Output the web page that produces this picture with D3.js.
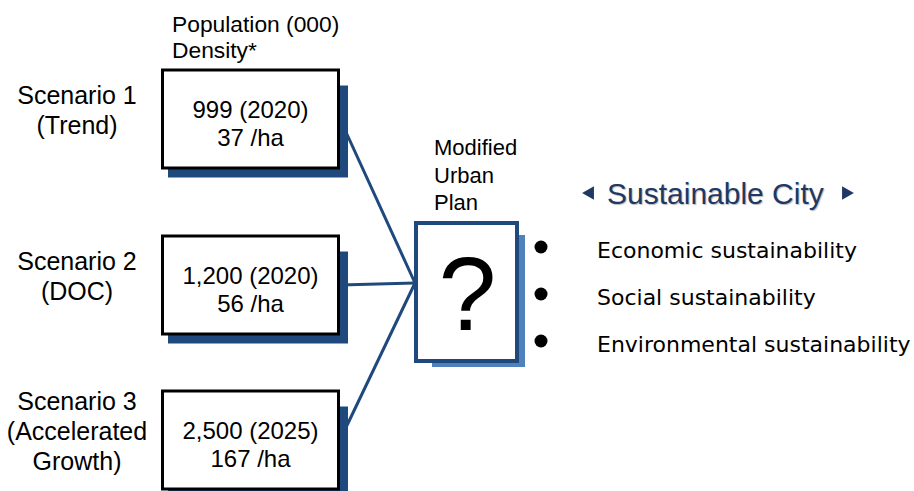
<!DOCTYPE html>
<html>
<head>
<meta charset="utf-8">
<script src="https://cdn.jsdelivr.net/npm/d3@7"></script>
<style>
  body { margin: 0; background: #fff; }
  svg { display: block; }
</style>
</head>
<body>
<div id="chart"></div>
<script>
// scenario data
const scenarios = ["Scenario 1", "Scenario 2", "Scenario 3"];
const scenarioNotes = [["(Trend)"], ["(DOC)"], ["(Accelerated", "Growth)"]];
const population = [999, 1200, 2500];   // thousands
const popYear = [2020, 2020, 2025];
const density = [37, 56, 167];          // per ha
const headerLines = ["Population (000)", "Density*"];
const planLines = ["Modified", "Urban", "Plan"];
const goalTitle = "Sustainable City";
const goals = ["Economic sustainability", "Social sustainability", "Environmental sustainability"];

const width = 914, height = 491;
const navy = "#1f497d";

const svg = d3.select("#chart").append("svg")
    .attr("width", width)
    .attr("height", height)
    .style("font-family", "Liberation Sans, Arial, sans-serif");

// vertical layout of the scenario boxes and the goal bullets
let yScenario = d3.scaleOrdinal().domain(scenarios).range([119, 285, 440]);
let yGoal = d3.scalePoint().domain(goals).range([247, 341]);

const box = {x: 161, w: 179, h: 101};
const qBox = {x: 414, y: 221, w: 105, h: 142};
const hub = {x: qBox.x + 1, y: 283};

let rows = scenarios.map(function (s, i) {
    return {name: s, notes: scenarioNotes[i], pop: population[i], year: popYear[i], dens: density[i]};
});

// connector lines
svg.selectAll(".link")
    .data(rows)
    .enter().append("line")
    .attr("class", "link")
    .attr("x1", box.x + box.w)
    .attr("y1", d => yScenario(d.name))
    .attr("x2", hub.x)
    .attr("y2", hub.y)
    .attr("stroke", navy)
    .attr("stroke-width", 3);

let g = svg.selectAll(".scenario")
    .data(rows)
    .enter().append("g")
    .attr("class", "scenario")
    .attr("transform", d => "translate(0," + (yScenario(d.name) - box.h / 2) + ")");

// shadow
g.append("rect")
    .attr("x", box.x + 7)
    .attr("y", 17)
    .attr("width", box.w + 1)
    .attr("height", box.h - 9)
    .attr("fill", navy);

g.append("rect")
    .attr("x", box.x + 1.5)
    .attr("y", 1.5)
    .attr("width", box.w - 3)
    .attr("height", box.h - 3)
    .attr("fill", "#fff")
    .attr("stroke", "#000")
    .attr("stroke-width", 3);

g.append("text")
    .attr("x", box.x + box.w / 2)
    .attr("y", box.h / 2 - 1)
    .attr("text-anchor", "middle")
    .style("font-size", "24px")
    .text(d => d3.format(",")(d.pop) + " (" + d.year + ")");

g.append("text")
    .attr("x", box.x + box.w / 2)
    .attr("y", box.h / 2 + 27)
    .attr("text-anchor", "middle")
    .style("font-size", "24px")
    .text(d => d.dens + " /ha");

// scenario labels on the left
g.each(function (d) {
    let lines = [d.name].concat(d.notes);
    let n = lines.length;
    d3.select(this).selectAll(".lbl")
        .data(lines)
        .enter().append("text")
        .attr("class", "lbl")
        .attr("x", 77)
        .attr("y", (t, i) => box.h / 2 + (i - (n - 1) / 2) * 30)
        .attr("text-anchor", "middle")
        .style("font-size", "25px")
        .text(t => t);
});

// header
svg.selectAll(".header")
    .data(headerLines)
    .enter().append("text")
    .attr("x", 172)
    .attr("y", (d, i) => 32 + i * 26)
    .style("font-size", "22.8px")
    .text(d => d);

// modified urban plan box
svg.selectAll(".plan")
    .data(planLines)
    .enter().append("text")
    .attr("x", 434)
    .attr("y", (d, i) => 155 + i * 27.5)
    .style("font-size", "22px")
    .text(d => d);

svg.append("rect")
    .attr("x", qBox.x + 18)
    .attr("y", qBox.y + 14)
    .attr("width", qBox.w - 12)
    .attr("height", qBox.h - 10)
    .attr("fill", "#4f81bd");

svg.append("rect")
    .attr("x", qBox.x + 2)
    .attr("y", qBox.y + 2)
    .attr("width", qBox.w - 4)
    .attr("height", qBox.h - 4)
    .attr("fill", "#fff")
    .attr("stroke", navy)
    .attr("stroke-width", 4);

svg.append("text")
    .attr("x", qBox.x + qBox.w / 2 + 1)
    .attr("y", 330)
    .attr("text-anchor", "middle")
    .style("font-size", "104px")
    .text("?");

// sustainable city
svg.append("text")
    .attr("x", 607)
    .attr("y", 204)
    .style("font-size", "30px")
    .style("fill", "#1f3864")
    .style("text-shadow", "1px 1px 1px #bbb")
    .text(goalTitle);

svg.append("path")
    .attr("d", d3.symbol().type(d3.symbolTriangle).size(80))
    .attr("transform", "translate(590,193) rotate(-90)")
    .attr("fill", "#1f3864");

svg.append("path")
    .attr("d", d3.symbol().type(d3.symbolTriangle).size(80))
    .attr("transform", "translate(846,193) rotate(90)")
    .attr("fill", "#1f3864");

svg.selectAll(".bullet")
    .data(goals)
    .enter().append("circle")
    .attr("cx", 541)
    .attr("cy", d => yGoal(d))
    .attr("r", 6.5)
    .attr("fill", "#000");

svg.selectAll(".goal")
    .data(goals)
    .enter().append("text")
    .attr("x", 597)
    .attr("y", d => yGoal(d) + 11)
    .style("font-family", "DejaVu Sans, Verdana, sans-serif")
    .style("font-size", "22px")
    .text(d => d);
</script>
</body>
</html>
